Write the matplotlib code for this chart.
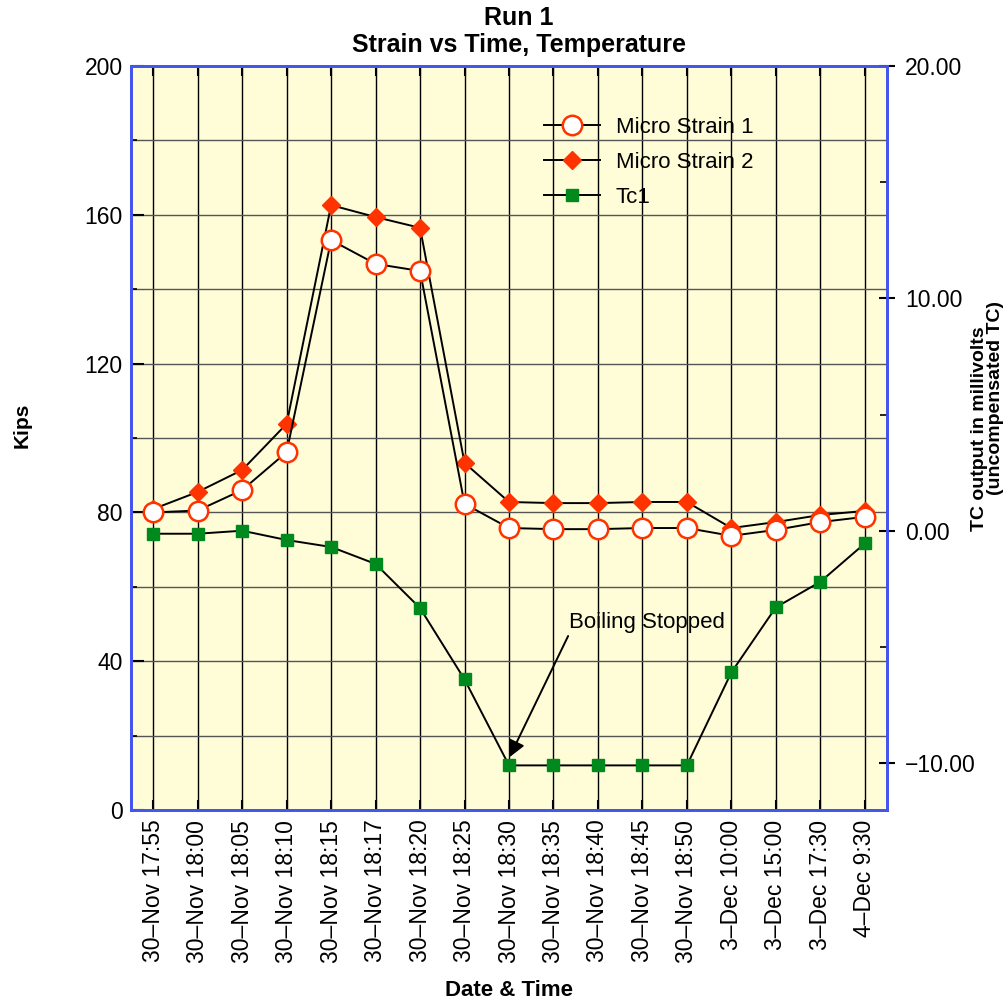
import numpy as np
import matplotlib
matplotlib.use("Agg")
import matplotlib.pyplot as plt
from matplotlib.ticker import MultipleLocator, FixedLocator

plt.rcParams['font.family'] = ['Liberation Sans', 'DejaVu Sans']

# data
dates = ["30–Nov 17:55", "30–Nov 18:00", "30–Nov 18:05", "30–Nov 18:10",
         "30–Nov 18:15", "30–Nov 18:17", "30–Nov 18:20", "30–Nov 18:25",
         "30–Nov 18:30", "30–Nov 18:35", "30–Nov 18:40", "30–Nov 18:45",
         "30–Nov 18:50", "3–Dec 10:00", "3–Dec 15:00", "3–Dec 17:30",
         "4–Dec 9:30"]
strain1 = [80.0, 80.5, 86.0, 96.2, 153.2, 146.8, 144.9, 82.3, 75.8, 75.5,
           75.5, 75.8, 75.8, 73.7, 75.3, 77.4, 78.8]
strain2 = [80.9, 85.5, 91.4, 103.8, 162.6, 159.4, 156.5, 93.3, 82.8, 82.5,
           82.5, 82.8, 82.8, 75.8, 77.4, 79.3, 80.4]
tc1 = [-0.13, -0.13, 0.0, -0.4, -0.7, -1.43, -3.33, -6.4, -10.1, -10.1,
       -10.1, -10.1, -10.1, -6.1, -3.3, -2.2, -0.55]
right_ticks = [-10, 0, 10, 20]
right_labels = ["\u221210.00", "0.00", "10.00", "20.00"]

x = np.arange(len(dates))
red = "#ff3300"
green = "#008a1e"
blue = "#4455ee"

fig = plt.figure(figsize=(10.08, 10.05), dpi=100)
ax = fig.add_axes([131/1008, 1-810/1005, (887-131)/1008, (810-66)/1005])
ax.set_facecolor("#fffcd8")

ax.set_xlim(-0.5, len(dates)-0.5)
ax.set_ylim(0, 200)
ax.yaxis.set_major_locator(MultipleLocator(40))
ax.yaxis.set_minor_locator(MultipleLocator(20))
ax.set_xticks(x)
ax.set_xticklabels(dates, rotation=90, fontsize=16.5)
ax.tick_params(axis='x', which='major', direction='in', length=7, width=1.5,
               top=True, pad=7)
ax.tick_params(axis='y', which='major', direction='in', length=9, width=1.5,
               labelsize=16.5, pad=6)
ax.tick_params(axis='y', which='minor', direction='in', length=4, width=1.2)
ax.grid(axis='x', color='black', lw=1.0)
ax.grid(axis='y', which='both', color='#555555', lw=1.0)
ax.set_axisbelow(True)
for s in ax.spines.values():
    s.set_color(blue)
    s.set_linewidth(2)

l1, = ax.plot(x, strain1, color='black', lw=1.4, marker='o', ms=14,
              mfc='white', mec=red, mew=1.8, label='Micro Strain 1', zorder=4)
l2, = ax.plot(x, strain2, color='black', lw=1.4, marker='D', ms=9,
              mfc=red, mec=red, label='Micro Strain 2', zorder=3)

ax2 = ax.twinx()
ax2.set_ylim(-12.02, 20)
ax2.yaxis.set_major_locator(FixedLocator(right_ticks))
ax2.set_yticklabels(right_labels)
ax2.yaxis.set_minor_locator(MultipleLocator(5))
ax2.tick_params(axis='y', which='major', direction='inout', length=12,
                width=1.5, labelsize=16.5, pad=7)
ax2.tick_params(axis='y', which='minor', direction='in', length=5, width=1.2)
for s in ax2.spines.values():
    s.set_color(blue)
    s.set_linewidth(2)

l3, = ax2.plot(x, tc1, color='black', lw=1.4, marker='s', ms=8,
               mfc=green, mec=green, label='Tc1', zorder=3)

ax2.annotate("Boiling Stopped", xy=(8.01, -9.75), xytext=(9.36, -3.96),
             fontsize=16, ha='left', va='center',
             arrowprops=dict(arrowstyle='-|>', color='black', lw=1.4,
                             mutation_scale=25, shrinkA=0, shrinkB=0,
                             relpos=(0, 0)))

ax2.legend(handles=[l1, l2, l3], loc='upper left',
           bbox_to_anchor=((524-131)/756, 1-(97-66)/744), frameon=False,
           fontsize=16, handlelength=2.5, labelspacing=0.62,
           handletextpad=0.72)

fig.text(519/1008, 1-18/1005, "Run 1", ha='center', va='center',
         fontsize=18, weight='bold')
fig.text(519/1008, 1-45/1005, "Strain vs Time, Temperature", ha='center',
         va='center', fontsize=18, weight='bold')
fig.text(22/1008, 1-425/1005, "Kips", rotation=90, ha='center',
         va='center', fontsize=15, weight='bold')
fig.text(509/1008, 1-990/1005, "Date & Time", ha='center', va='center',
         fontsize=16, weight='bold')
# right axis title, two lines placed separately so they fit the edge
fig.text(980/1008, 1-429/1005, "TC output in millivolts", rotation=90,
         ha='center', va='center', fontsize=14, weight='bold')
fig.text(996/1008, 1-398/1005, "(uncompensated TC)", rotation=90,
         ha='center', va='center', fontsize=14, weight='bold')

fig.savefig("out.png", dpi=100)
